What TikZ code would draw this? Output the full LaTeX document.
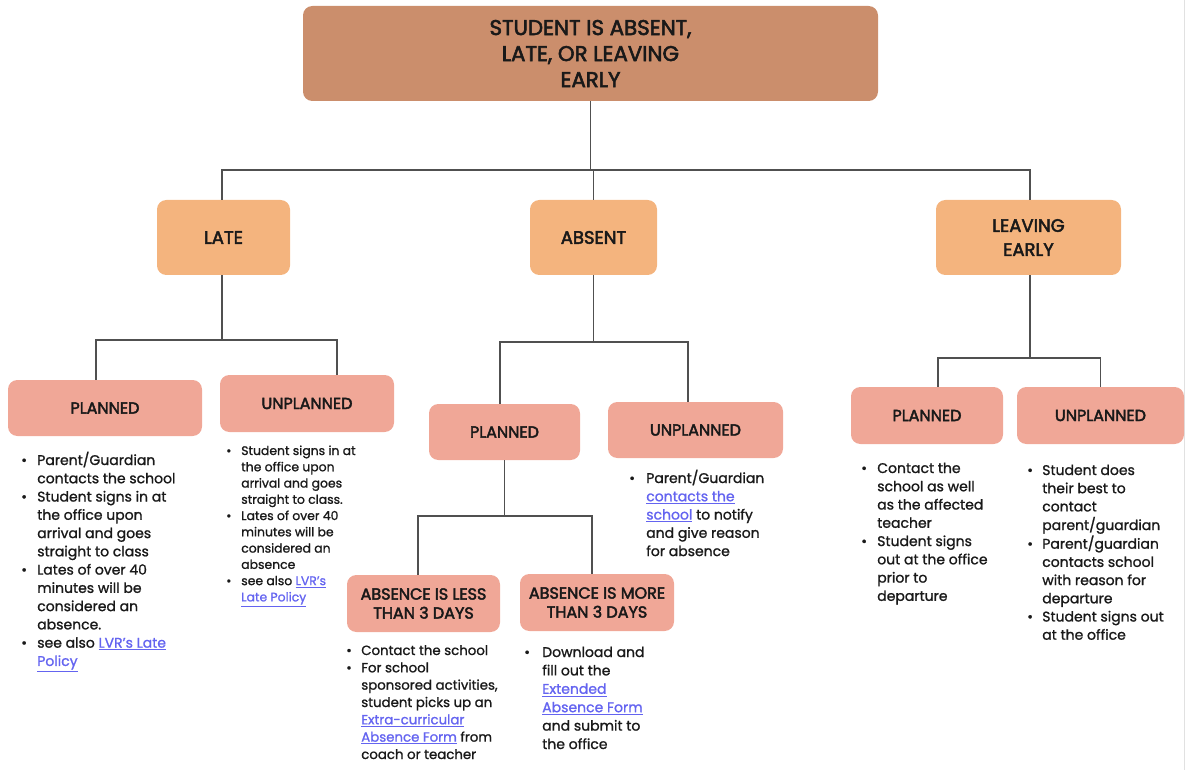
\documentclass[tikz,border=0pt]{standalone}
\usepackage{fontspec}
\setmainfont{Poppins}[FakeBold=1.2]
\newfontfamily\headfont{Poppins}[FakeBold=2.6]
\definecolor{topc}{RGB}{203,142,108}
\definecolor{midc}{RGB}{244,180,126}
\definecolor{lowc}{RGB}{240,167,151}
\definecolor{linec}{RGB}{80,80,80}
\definecolor{txt}{RGB}{25,25,25}
\definecolor{linkc}{RGB}{100,100,240}
\definecolor{edgec}{RGB}{225,225,225}
\newlength\bw
\newcommand\bu{\makebox[\bw][l]{\textbullet}}
\newcommand\lnk[1]{\textcolor{linkc}{\underline{#1}}}
\newcommand\lst[3]{\setlength\bw{#3}\fontsize{#1}{#2}\selectfont}
\tikzset{
  box/.style={rounded corners=7pt, draw=none, inner sep=0pt, align=center, text=txt},
  topbox/.style={box, fill=topc, font=\headfont\fontsize{16}{19.5}\selectfont},
  midbox/.style={box, fill=midc, font=\headfont\fontsize{13.5}{18}\selectfont},
  lowbox/.style={box, fill=lowc, font=\headfont\fontsize{12}{14.25}\selectfont},
  conn/.style={draw=linec, line width=1.1pt},
  lstnode/.style={anchor=base west, inner sep=0pt, text=txt}
}
\begin{document}
\begin{tikzpicture}[x=0.75pt,y=-0.75pt]
\useasboundingbox (0,0) rectangle (1186,770);
\draw[edgec, line width=1pt] (1184.5,0) -- (1184.5,770);

% boxes
\node[topbox, minimum width=431.25pt, minimum height=71.25pt] (top) at (590.5,53.5) {STUDENT IS ABSENT,\\LATE, OR LEAVING\\EARLY};
\node[midbox, minimum width=99.75pt, minimum height=56.25pt] (late) at (223.5,237.5) {LATE};
\node[midbox, minimum width=95.25pt, minimum height=56.25pt] (absent) at (593.5,237.5) {ABSENT};
\node[midbox, minimum width=138.75pt, minimum height=56.25pt] (leave) at (1028.5,237.5) {LEAVING\\EARLY};

\node[lowbox, minimum width=145.5pt, minimum height=42pt] (lp) at (105,408) {PLANNED};
\node[lowbox, minimum width=130.5pt, minimum height=42.75pt] (lu) at (307,403.5) {UNPLANNED};
\node[lowbox, minimum width=113.25pt, minimum height=42pt] (ap) at (504.5,432) {PLANNED};
\node[lowbox, minimum width=131.25pt, minimum height=42pt] (au) at (695.5,430) {UNPLANNED};
\node[lowbox, minimum width=114.75pt, minimum height=42.75pt] (less) at (423.5,603.5) {ABSENCE IS LESS\\THAN 3 DAYS};
\node[lowbox, minimum width=115.5pt, minimum height=42.75pt] (more) at (597,602.5) {ABSENCE IS MORE\\THAN 3 DAYS};
\node[lowbox, minimum width=114pt, minimum height=42.75pt] (lep) at (927,415.5) {PLANNED};
\node[lowbox, minimum width=125.25pt, minimum height=42.75pt] (leu) at (1100.5,415.5) {UNPLANNED};

% connectors
\coordinate (b1) at (590,170);
\draw[conn] (top.south) -- (top.south |- b1);
\draw[conn] ([shift={(-1.5,0)}]late.north) |- (b1) -| ([shift={(1.5,0)}]leave.north);
\draw[conn] (absent.north) -- (absent.north |- b1);

\coordinate (b2) at (222,340);
\draw[conn] ([shift={(-1.5,0)}]late.south) -- ([shift={(-1.5,0)}]late.south |- b2);
\draw[conn] ([shift={(-9,0)}]lp.north) |- (b2) -| ([shift={(30,0)}]lu.north);

\coordinate (b3) at (593,342);
\draw[conn] (absent.south) -- (absent.south |- b3);
\draw[conn] ([shift={(-4.5,0)}]ap.north) |- (b3) -| ([shift={(-7.5,0)}]au.north);

\coordinate (b4) at (505,516);
\draw[conn] (ap.south) -- (ap.south |- b4);
\draw[conn] ([shift={(-5.5,0)}]less.north) |- (b4) -| ([shift={(-5,0)}]more.north);

\coordinate (b5) at (1030,358);
\draw[conn] ([shift={(1.5,0)}]leave.south) -- ([shift={(1.5,0)}]leave.south |- b5);
\draw[conn] ([shift={(11,0)}]lep.north) |- (b5) -| (leu.north);

% lists
\node[lstnode] (lpl) at (21,465) {\lst{10.5}{13.7}{12pt}\begin{tabular}[t]{@{}l@{}l@{}}
\bu & Parent/Guardian\\
 & contacts the school\\
\bu & Student signs in at\\
 & the office upon\\
 & arrival and goes\\
 & straight to class\\
\bu & Lates of over 40\\
 & minutes will be\\
 & considered an\\
 & absence.\\
\bu & see also \lnk{LVR's Late}\\
 & \lnk{Policy}
\end{tabular}};

\node[lstnode] (lul) at (226,455) {\lst{9.3}{12.2}{11.25pt}\begin{tabular}[t]{@{}l@{}l@{}}
\bu & Student signs in at\\
 & the office upon\\
 & arrival and goes\\
 & straight to class.\\
\bu & Lates of over 40\\
 & minutes will be\\
 & considered an\\
 & absence\\
\bu & see also \lnk{LVR's}\\
 & \lnk{Late Policy}
\end{tabular}};

\node[lstnode] (aul) at (629,483) {\lst{10.5}{13.7}{12.75pt}\begin{tabular}[t]{@{}l@{}l@{}}
\bu & Parent/Guardian\\
 & \lnk{contacts the}\\
 & \lnk{school} to notify\\
 & and give reason\\
 & for absence
\end{tabular}};

\node[lstnode] (lessl) at (346,655) {\lst{10}{13}{11.25pt}\begin{tabular}[t]{@{}l@{}l@{}}
\bu & Contact the school\\
\bu & For school\\
 & sponsored activities,\\
 & student picks up an\\
 & \lnk{Extra-curricular}\\
 & \lnk{Absence Form} from\\
 & coach or teacher
\end{tabular}};

\node[lstnode] (morel) at (524,657) {\lst{10.5}{13.8}{13.5pt}\begin{tabular}[t]{@{}l@{}l@{}}
\bu & Download and\\
 & fill out the\\
 & \lnk{Extended}\\
 & \lnk{Absence Form}\\
 & and submit to\\
 & the office
\end{tabular}};

\node[lstnode] (lepl) at (861,473) {\lst{10.5}{13.7}{12pt}\begin{tabular}[t]{@{}l@{}l@{}}
\bu & Contact the\\
 & school as well\\
 & as the affected\\
 & teacher\\
\bu & Student signs\\
 & out at the office\\
 & prior to\\
 & departure
\end{tabular}};

\node[lstnode] (leul) at (1027,475) {\lst{10.5}{13.65}{11.25pt}\begin{tabular}[t]{@{}l@{}l@{}}
\bu & Student does\\
 & their best to\\
 & contact\\
 & parent/guardian\\
\bu & Parent/guardian\\
 & contacts school\\
 & with reason for\\
 & departure\\
\bu & Student signs out\\
 & at the office
\end{tabular}};
\end{tikzpicture}
\end{document}
